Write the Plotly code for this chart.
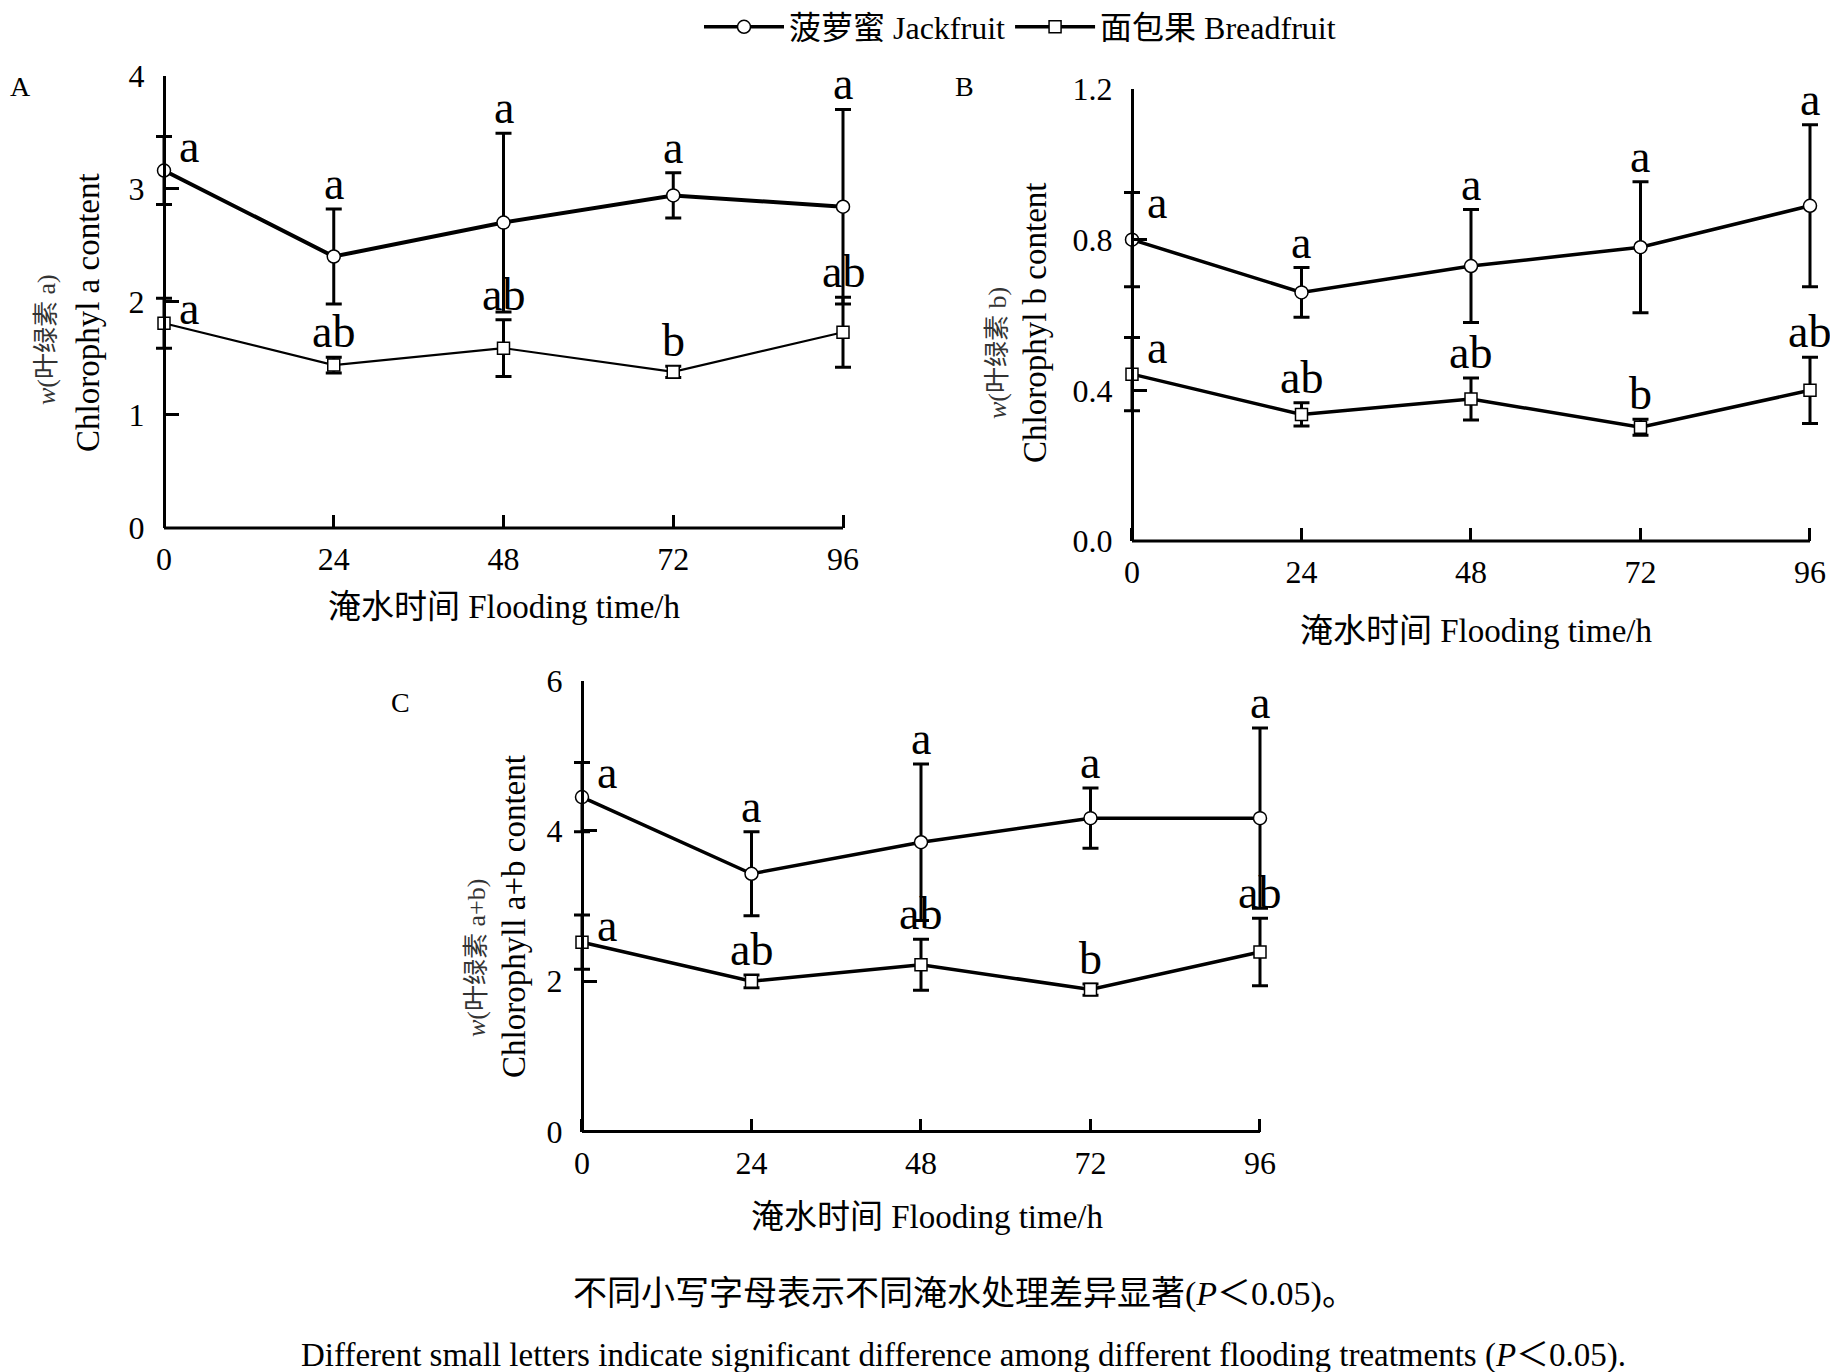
import plotly.graph_objects as go

# flooding time (h)
time_h = [0, 24, 48, 72, 96]

# panel A: chlorophyll a
jack_a = [3.16, 2.40, 2.70, 2.94, 2.84]
jack_a_err = [0.30, 0.42, 0.79, 0.20, 0.86]
bread_a = [1.81, 1.44, 1.59, 1.38, 1.73]
bread_a_err = [0.22, 0.07, 0.25, 0.05, 0.31]

# panel B: chlorophyll b
jack_b = [0.80, 0.66, 0.73, 0.78, 0.89]
jack_b_err = [0.125, 0.066, 0.15, 0.174, 0.215]
bread_b = [0.443, 0.336, 0.377, 0.302, 0.400]
bread_b_err = [0.097, 0.031, 0.056, 0.021, 0.088]

# panel C: chlorophyll a+b
jack_c = [4.45, 3.43, 3.85, 4.17, 4.17]
jack_c_err = [0.46, 0.56, 1.04, 0.40, 1.20]
bread_c = [2.52, 2.00, 2.22, 1.89, 2.39]
bread_c_err = [0.36, 0.085, 0.34, 0.075, 0.45]

# significance letters
jack_letters = ["a", "a", "a", "a", "a"]
bread_letters = ["a", "ab", "ab", "b", "ab"]

W, H = 1838, 1372
OFF = 8  # page body margin of the browser
FONT = "Liberation Serif, Noto Sans CJK SC, serif"
PAD = 1.5  # x padding (hours) so end error bars are not clipped


def fx(p):
    return (p - OFF) / W


def fy(p):
    return 1 - (p - OFF) / H


panels = [
    dict(ax="", xpx=(164, 843), ypx=(75.5, 528), yr=[0, 4], dt=1, fmt="d",
         jack=(jack_a, jack_a_err), bread=(bread_a, bread_a_err), lw=(4, 2.2)),
    dict(ax="2", xpx=(1132, 1810), ypx=(89, 541), yr=[0, 1.2], dt=0.4, fmt=".1f",
         jack=(jack_b, jack_b_err), bread=(bread_b, bread_b_err), lw=(3.5, 3.5)),
    dict(ax="3", xpx=(582, 1260), ypx=(680.6, 1131.6), yr=[0, 6], dt=2, fmt="d",
         jack=(jack_c, jack_c_err), bread=(bread_c, bread_c_err), lw=(3.5, 3.5)),
]

fig = go.Figure()
annotations = []
shapes = []

for i, p in enumerate(panels):
    xa, ya = "x" + p["ax"], "y" + p["ax"]
    for key, name, symbol, size, lw, letters in [
        ("jack", "菠萝蜜 Jackfruit", "circle", 13, p["lw"][0], jack_letters),
        ("bread", "面包果 Breadfruit", "square", 12, p["lw"][1], bread_letters),
    ]:
        vals, errs = p[key]
        fig.add_trace(go.Scatter(
            x=time_h, y=vals, xaxis=xa, yaxis=ya, name=name,
            mode="lines+markers", cliponaxis=False,
            line=dict(color="black", width=lw),
            marker=dict(symbol=symbol, size=size, color="white",
                        line=dict(color="black", width=1.5)),
            error_y=dict(type="data", array=errs, color="black", thickness=3, width=8),
            showlegend=(i == 1), legendgroup=key,
        ))
        for t, v, e, lab in zip(time_h, vals, errs, letters):
            if t == 0:
                annotations.append(dict(x=t, y=v + e, xref=xa, yref=ya, text=lab,
                                        showarrow=False, xshift=25, yshift=-10,
                                        yanchor="middle",
                                        font=dict(family=FONT, size=46, color="black")))
            else:
                annotations.append(dict(x=t, y=v + e, xref=xa, yref=ya, text=lab,
                                        showarrow=False, yanchor="bottom", yshift=-2,
                                        font=dict(family=FONT, size=46, color="black")))
    # x axis line from 0 to 96 only
    shapes.append(dict(type="line", xref=xa, yref=ya + " domain", x0=0, x1=96, y0=0, y1=0,
                       line=dict(color="black", width=3)))

axis_common = dict(linecolor="black", linewidth=3, ticks="inside",
                   ticklen=13, tickwidth=3, tickcolor="black", showgrid=False,
                   zeroline=False, automargin=False,
                   tickfont=dict(family=FONT, size=32, color="black"))

layout_axes = {}
for p in panels:
    n = p["ax"]
    scale = (p["xpx"][1] - p["xpx"][0]) / 96
    d0 = fx(p["xpx"][0] - PAD * scale)
    d1 = fx(p["xpx"][1] + PAD * scale)
    layout_axes["xaxis" + n] = dict(domain=[d0, d1], range=[-PAD, 96 + PAD],
                                    tickvals=time_h, anchor="y" + n, showline=False,
                                    ticklabelstandoff=9, **axis_common)
    layout_axes["yaxis" + n] = dict(domain=[fy(p["ypx"][1]), fy(p["ypx"][0])],
                                    range=p["yr"], dtick=p["dt"], tick0=0,
                                    tickformat=p["fmt"], anchor="free",
                                    position=fx(p["xpx"][0]), showline=True,
                                    ticklabelstandoff=12, **axis_common)


def text(x, y, s, size, angle=0, color="black", xanchor="center"):
    annotations.append(dict(x=fx(x), y=fy(y), xref="paper", yref="paper", text=s,
                            showarrow=False, textangle=angle,
                            xanchor=xanchor, yanchor="middle",
                            font=dict(family=FONT, size=size, color=color)))


# panel labels
text(8, 86, "A", 28, xanchor="left")
text(964, 86, "B", 28)
text(400, 702, "C", 28)

# x axis titles
xtitle = "淹水时间 Flooding time/h"
text(505, 607, xtitle, 33)
text(1476, 631, xtitle, 33)
text(927, 1217, xtitle, 33)

# y axis titles
text(47, 340, "<i>w</i>(叶绿素 a)", 26, -90, "#333333")
text(88, 313, "Chlorophyl a content", 33, -90)
text(997, 353, "<i>w</i>(叶绿素 b)", 26, -90, "#333333")
text(1035, 323, "Chlorophyl b content", 33, -90)
text(476, 958, "<i>w</i>(叶绿素 a+b)", 26, -90, "#333333")
text(514, 917, "Chlorophyll a+b content", 33, -90)

# captions
text(964, 1294, "不同小写字母表示不同淹水处理差异显著(<i>P</i>＜0.05)。", 34)
text(963, 1355, "Different small letters indicate significant difference among different "
                "flooding treatments (<i>P</i>＜0.05).", 33)

fig.update_layout(
    template="none",
    width=W, height=H,
    margin=dict(l=0, r=0, t=0, b=0, autoexpand=False),
    paper_bgcolor="white", plot_bgcolor="white",
    font=dict(family=FONT, color="black"),
    annotations=annotations,
    shapes=shapes,
    legend=dict(orientation="h", x=fx(1020), y=fy(27), xanchor="center", yanchor="middle",
                font=dict(family=FONT, size=32, color="black"), itemwidth=80,
                bgcolor="rgba(0,0,0,0)", borderwidth=0),
    **layout_axes,
)

fig.write_html("out.html")
